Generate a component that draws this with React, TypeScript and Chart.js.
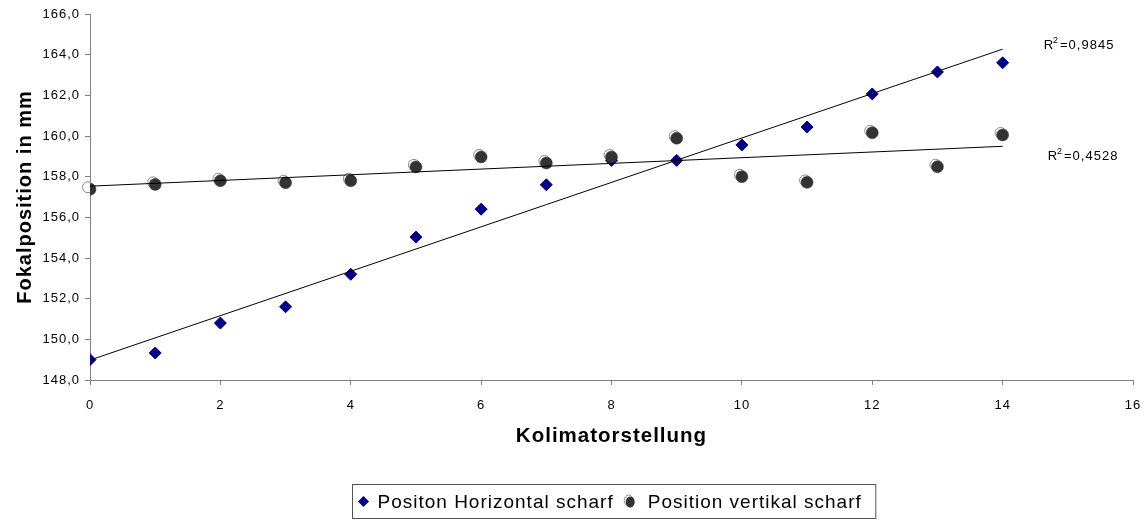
import React, { useEffect, useRef } from "react";
import { Chart, registerables } from "chart.js";

Chart.register(...registerables);

const kolimatorstellung = [0, 1, 2, 3, 4, 5, 6, 7, 8, 9, 10, 11, 12, 13, 14];
const horizontalScharf = [149.0, 149.33, 150.8, 151.6, 153.2, 155.03, 156.4, 157.6, 158.8, 158.8, 159.56, 160.44, 162.07, 163.15, 163.6];
const vertikalScharf = [157.38, 157.62, 157.8, 157.7, 157.8, 158.48, 158.97, 158.67, 158.97, 159.89, 158.0, 157.72, 160.16, 158.49, 160.05];
const r2Values = ["0,9845", "0,4528"];
const legendLabels = ["Positon Horizontal scharf", "Position vertikal scharf"];
const xAxisTitle = "Kolimatorstellung";
const yAxisTitle = "Fokalposition in mm";

const NAVY = "#000080";
const DARK = "#333333";
const GRAY = "#808080";
const FONT = '"Liberation Sans", Arial, sans-serif';

function linearFit(xs: number[], ys: number[]) {
  const n = xs.length;
  const mx = xs.reduce((a, b) => a + b, 0) / n;
  const my = ys.reduce((a, b) => a + b, 0) / n;
  let sxy = 0;
  let sxx = 0;
  for (let i = 0; i < n; i++) {
    sxy += (xs[i] - mx) * (ys[i] - my);
    sxx += (xs[i] - mx) * (xs[i] - mx);
  }
  const b = sxy / sxx;
  const a = my - b * mx;
  const x0 = xs[0];
  const x1 = xs[n - 1];
  return [
    { x: x0, y: a + b * x0 },
    { x: x1, y: a + b * x1 },
  ];
}

const VERT_INDEX = 2;

function drawGhost(ctx: CanvasRenderingContext2D, x: number, y: number) {
  ctx.beginPath();
  ctx.arc(x - 2, y - 2, 5.5, 0, Math.PI * 2);
  ctx.fillStyle = "#ffffff";
  ctx.fill();
  ctx.strokeStyle = "#8a8a8a";
  ctx.lineWidth = 1;
  ctx.stroke();
}

function drawDiamond(ctx: CanvasRenderingContext2D, x: number, y: number, r: number) {
  ctx.beginPath();
  ctx.moveTo(x - r, y);
  ctx.lineTo(x, y - r);
  ctx.lineTo(x + r, y);
  ctx.lineTo(x, y + r);
  ctx.closePath();
  ctx.fillStyle = NAVY;
  ctx.fill();
}

function drawR2(ctx: CanvasRenderingContext2D, x: number, y: number, value: string) {
  ctx.fillStyle = "#000";
  ctx.textBaseline = "middle";
  ctx.textAlign = "left";
  ctx.font = `13px ${FONT}`;
  ctx.fillText("R", x, y);
  const wR = ctx.measureText("R").width;
  ctx.font = `9px ${FONT}`;
  ctx.fillText("2", x + wR - 1, y - 5);
  const w2 = ctx.measureText("2").width;
  ctx.font = `13px ${FONT}`;
  ctx.fillText("=" + value, x + wR + w2, y);
}

const decorPlugin = {
  id: "decor",
  beforeDraw(chart: any) {
    (chart.ctx as any).letterSpacing = "1px";
  },
  beforeDatasetDraw(chart: any, args: any) {
    if (args.index !== VERT_INDEX) return;
    const ctx = chart.ctx as CanvasRenderingContext2D;
    ctx.save();
    args.meta.data.forEach((pt: any) => drawGhost(ctx, pt.x, pt.y));
    ctx.restore();
  },
  afterDraw(chart: any) {
    const ctx = chart.ctx as CanvasRenderingContext2D;
    const xs = chart.scales.x;
    const ys = chart.scales.y;
    ctx.save();
    (ctx as any).letterSpacing = "1px";

    // R² labels next to trendline ends
    const fitH = chart.data.datasets[0].data;
    const fitV = chart.data.datasets[1].data;
    const endX = xs.getPixelForValue(fitH[1].x);
    drawR2(ctx, endX + 41, ys.getPixelForValue(fitH[1].y) - 4, r2Values[0]);
    drawR2(ctx, endX + 45, ys.getPixelForValue(fitV[1].y) + 10, r2Values[1]);

    // Legend
    ctx.font = `19px ${FONT}`;
    const w1 = ctx.measureText(legendLabels[0]).width;
    const w2 = ctx.measureText(legendLabels[1]).width;
    const padL = 11;
    const markerGap1 = 14;
    const itemGap = 16;
    const markerGap2 = 18;
    const padR = 14;
    const total = padL + markerGap1 + w1 + itemGap + markerGap2 + w2 + padR;
    const cx = (chart.chartArea.left + chart.chartArea.right) / 2 + 2;
    const left = Math.round(cx - total / 2) + 0.5;
    const top = 484.5;
    const h = 34;
    ctx.strokeStyle = "#555555";
    ctx.lineWidth = 1;
    ctx.strokeRect(left, top, total, h);
    const my = top + h / 2;
    let px = left + padL;
    drawDiamond(ctx, px, my, 5.5);
    px += markerGap1;
    ctx.fillStyle = "#000";
    ctx.textAlign = "left";
    ctx.textBaseline = "middle";
    ctx.font = `19px ${FONT}`;
    ctx.fillText(legendLabels[0], px, my + 1);
    px += w1 + itemGap;
    ctx.save();
    ctx.beginPath();
    ctx.ellipse(px - 1, my - 1, 4.5, 5.5, 0, 0, Math.PI * 2);
    ctx.fillStyle = "#ffffff";
    ctx.fill();
    ctx.strokeStyle = "#8a8a8a";
    ctx.stroke();
    ctx.beginPath();
    ctx.ellipse(px + 0.5, my + 0.5, 4.5, 5.5, 0, 0, Math.PI * 2);
    ctx.fillStyle = DARK;
    ctx.fill();
    ctx.restore();
    px += markerGap2;
    ctx.fillStyle = "#000";
    ctx.font = `19px ${FONT}`;
    ctx.fillText(legendLabels[1], px, my + 1);
    ctx.restore();
  },
};

export default function App() {
  const canvasRef = useRef<HTMLCanvasElement | null>(null);

  useEffect(() => {
    document.body.style.margin = "0";
    const canvas = canvasRef.current;
    if (!canvas) return;

    const horizontalPoints = kolimatorstellung.map((x, i) => ({ x, y: horizontalScharf[i] }));
    const vertikalPoints = kolimatorstellung.map((x, i) => ({ x, y: vertikalScharf[i] }));

    const chart = new Chart(canvas, {
      type: "scatter",
      data: {
        datasets: [
          {
            label: "Trend horizontal",
            data: linearFit(kolimatorstellung, horizontalScharf),
            showLine: true,
            borderColor: "#000",
            borderWidth: 1,
            pointRadius: 0,
            backgroundColor: "#000",
          },
          {
            label: "Trend vertikal",
            data: linearFit(kolimatorstellung, vertikalScharf),
            showLine: true,
            borderColor: "#000",
            borderWidth: 1,
            pointRadius: 0,
            backgroundColor: "#000",
          },
          {
            label: legendLabels[1],
            data: vertikalPoints,
            pointStyle: "circle",
            pointRadius: 6,
            pointBackgroundColor: DARK,
            pointBorderColor: DARK,
            pointBorderWidth: 0.5,
          },
          {
            label: legendLabels[0],
            data: horizontalPoints,
            pointStyle: "rectRot",
            pointRadius: 6,
            pointBackgroundColor: NAVY,
            pointBorderColor: NAVY,
            pointBorderWidth: 1,
          },
        ],
      },
      options: {
        animation: false,
        responsive: true,
        maintainAspectRatio: false,
        layout: { padding: { top: 14, right: 14, left: 0, bottom: 0 } },
        plugins: {
          legend: { display: false },
          tooltip: { enabled: false },
        },
        scales: {
          x: {
            type: "linear",
            min: 0,
            max: 16,
            afterFit: (scale: any) => {
              scale.height = 145;
              scale.paddingRight = 0;
              scale.paddingLeft = 0;
            },
            ticks: {
              stepSize: 2,
              color: "#000",
              font: { family: FONT, size: 13 },
              padding: 13,
              maxRotation: 0,
            },
            grid: {
              drawOnChartArea: false,
              drawTicks: true,
              tickLength: 5,
              color: GRAY,
            },
            border: { color: GRAY, width: 1 },
            title: {
              display: true,
              text: xAxisTitle,
              color: "#000",
              font: { family: FONT, size: 20.5, weight: "bold" },
              padding: { top: 0, bottom: 76 },
            },
          },
          y: {
            type: "linear",
            min: 148,
            max: 166,
            afterFit: (scale: any) => {
              scale.width = 90;
            },
            ticks: {
              stepSize: 2,
              color: "#000",
              font: { family: FONT, size: 13 },
              padding: 5,
              callback: (v: any) => Number(v).toFixed(1).replace(".", ","),
            },
            grid: {
              drawOnChartArea: false,
              drawTicks: true,
              tickLength: 5,
              color: GRAY,
            },
            border: { color: GRAY, width: 1 },
            title: {
              display: true,
              text: yAxisTitle,
              color: "#000",
              font: { family: FONT, size: 20, weight: "bold" },
              padding: { top: 13, bottom: 0 },
            },
          },
        },
      },
      plugins: [decorPlugin],
    });

    return () => chart.destroy();
  }, []);

  return (
    <div style={{ position: "relative", width: 1147, height: 525 }}>
      <canvas ref={canvasRef} />
    </div>
  );
}
